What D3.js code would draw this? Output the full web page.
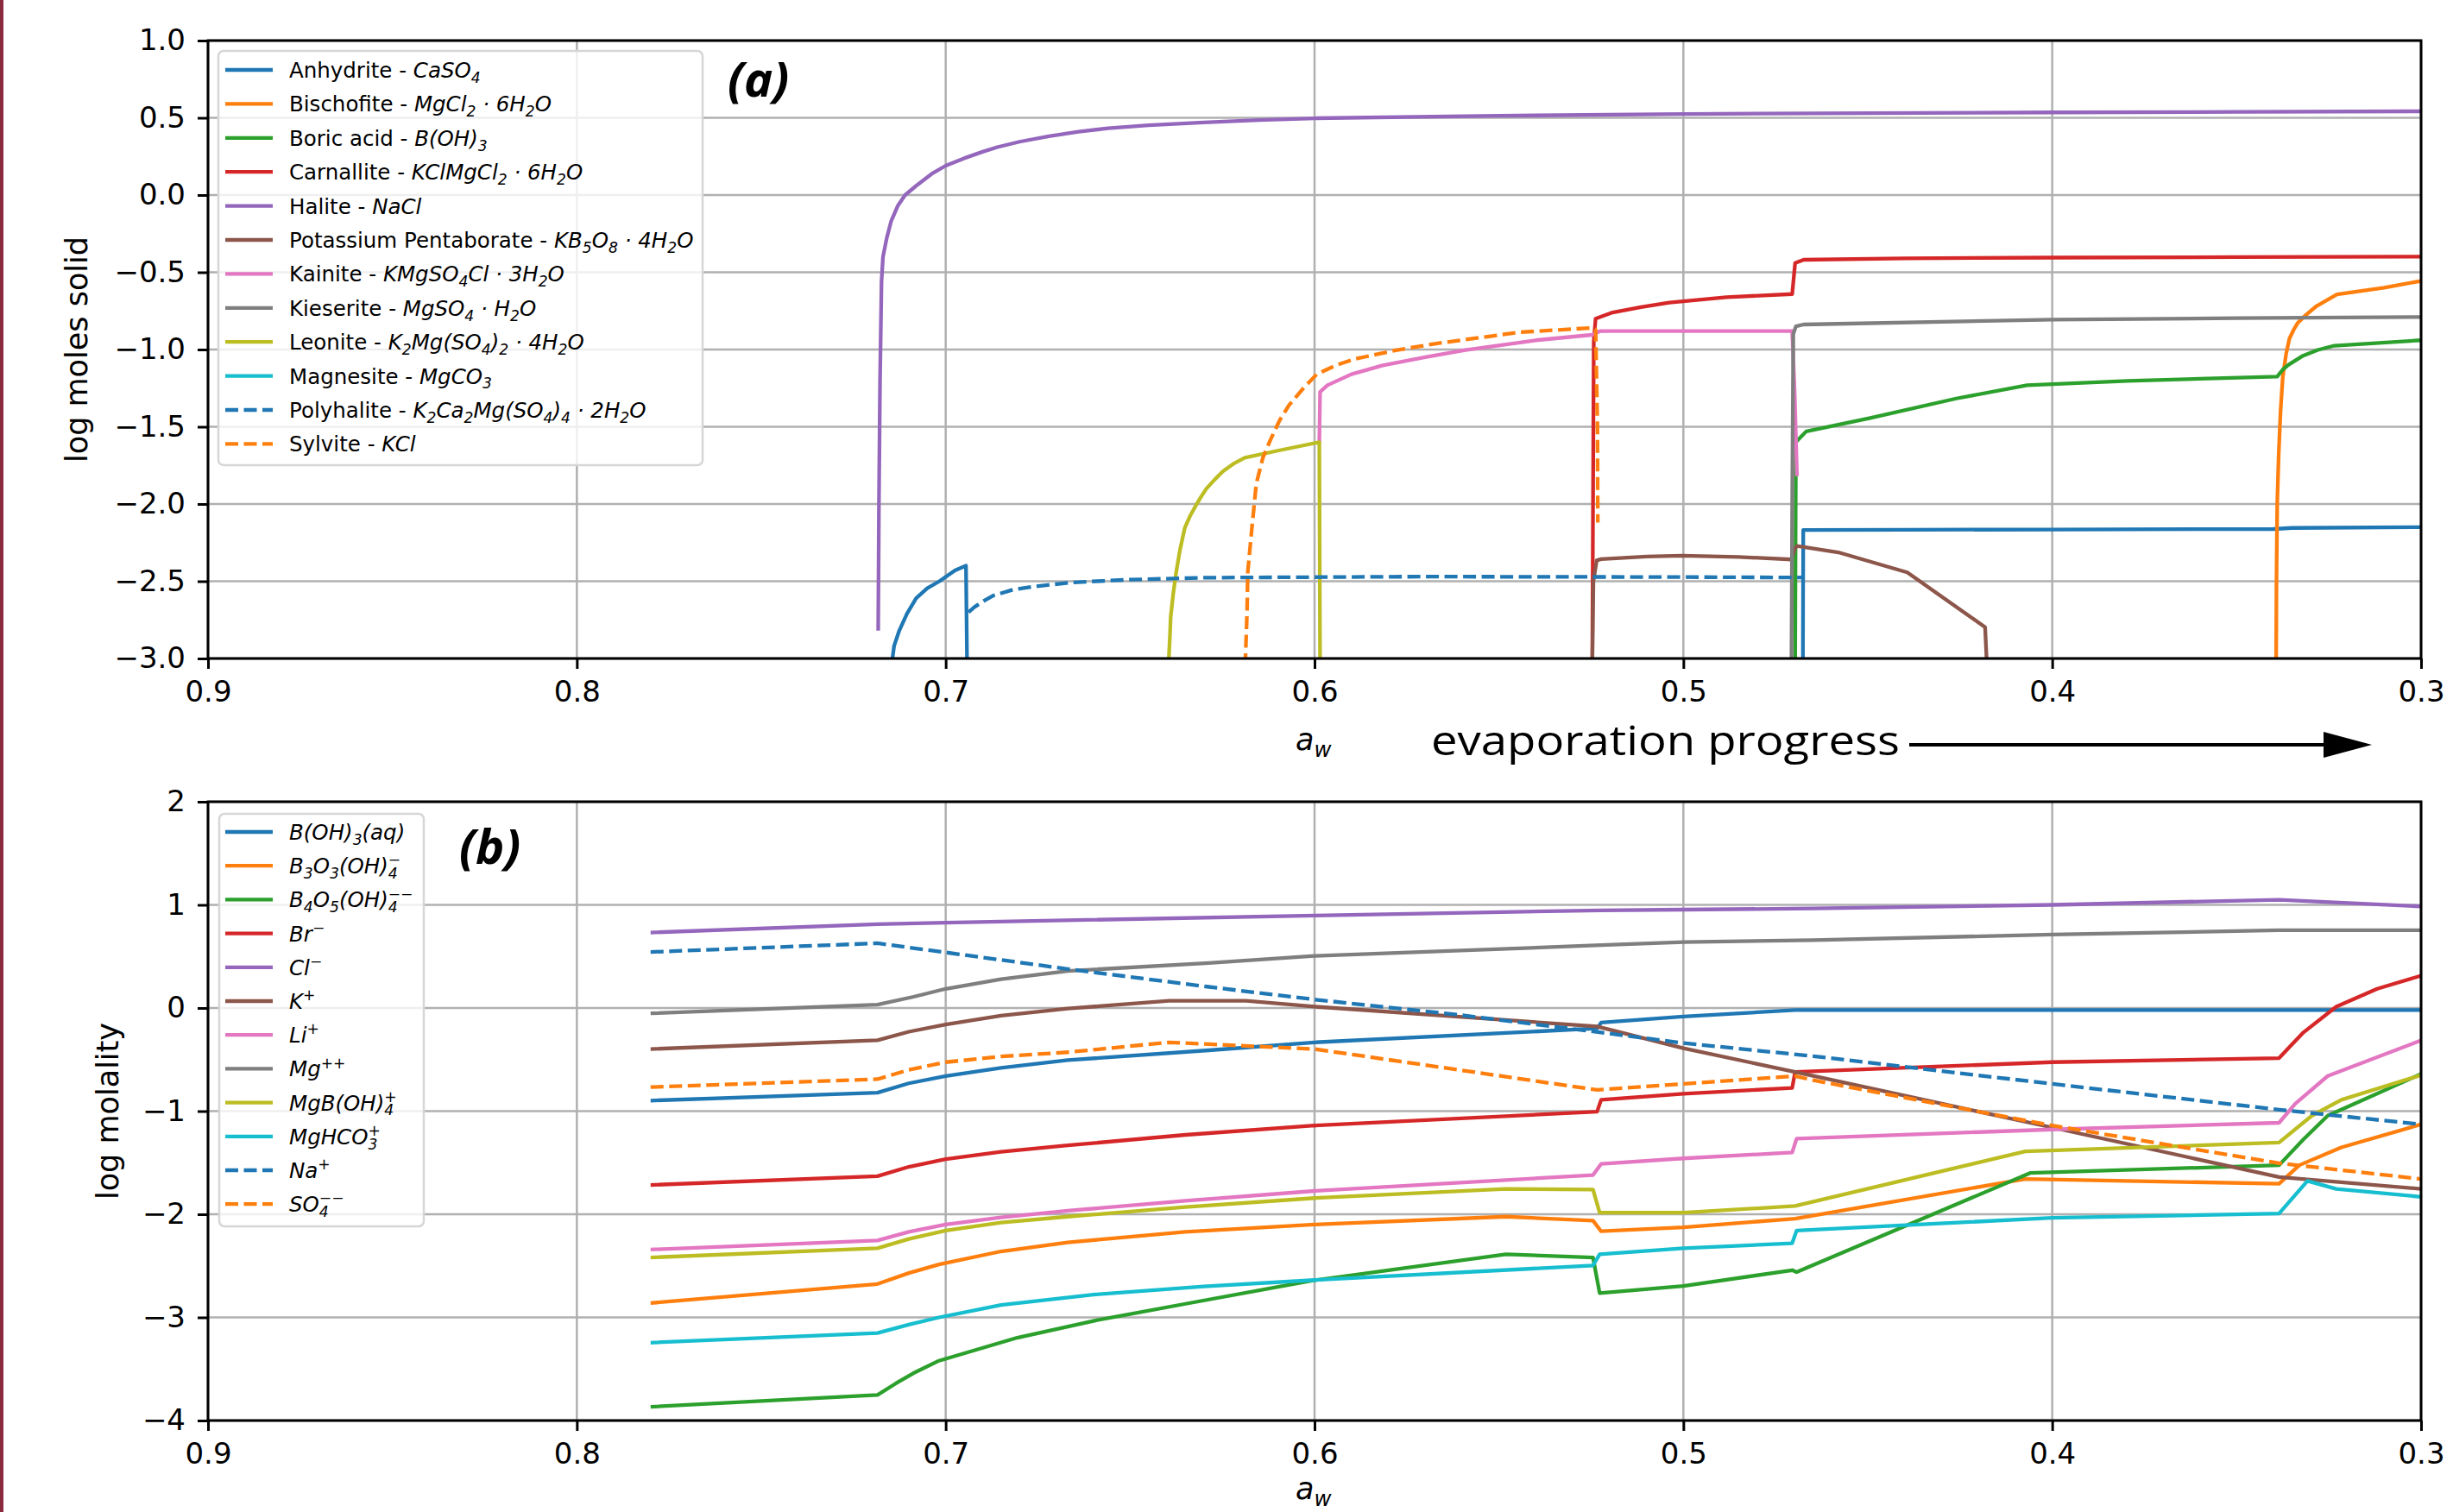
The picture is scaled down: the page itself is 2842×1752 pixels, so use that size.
<!DOCTYPE html>
<html>
<head>
<meta charset="utf-8">
<script src="https://cdn.jsdelivr.net/npm/d3@7"></script>
<style>
  body { margin: 0; background: #fff; }
  svg text { font-family: "DejaVu Sans", sans-serif; fill: #000; }
</style>
</head>
<body>
<svg width="2842" height="1752"></svg>
<script>
// **** Data: [a_w, value] pairs, null = gap ****

// (a) log moles solid
var anhydrite = [[0.7147,-3.05],[0.714,-2.92],[0.7126,-2.82],[0.7105,-2.71],[0.708,-2.61],[0.705,-2.545],[0.7017,-2.50],
    [0.6975,-2.43],[0.6945,-2.40],[0.6942,-3.05],
    null,[0.4676,-3.05],[0.4675,-2.168],[0.44,-2.167],[0.4,-2.165],[0.34,-2.162],[0.335,-2.155],[0.3,-2.15]];
var bischofite = [[0.3393,-3.05],[0.3392,-2.5],[0.339,-2.0],[0.3386,-1.68],[0.3381,-1.40],[0.3375,-1.18],[0.3366,-1.03],
    [0.3357,-0.93],[0.3345,-0.87],[0.3335,-0.83],[0.3314,-0.78],[0.3283,-0.718],[0.3228,-0.643],[0.31,-0.60],[0.3,-0.556]];
var boricAcid = [[0.4697,-3.05],[0.4695,-1.60],[0.469,-1.587],[0.4667,-1.53],[0.4496,-1.445],[0.426,-1.317],[0.4068,-1.231],
    [0.3796,-1.203],[0.339,-1.175],[0.3375,-1.13],[0.336,-1.10],[0.332,-1.04],[0.328,-1.003],[0.3235,-0.975],[0.3,-0.94]];
var carnallite = [[0.5247,-3.05],[0.5245,-2.0],[0.5243,-0.95],[0.5238,-0.80],[0.5195,-0.762],[0.5115,-0.725],[0.5038,-0.696],
    [0.4883,-0.661],[0.4705,-0.641],[0.4697,-0.44],[0.4674,-0.419],[0.44,-0.41],[0.4,-0.405],[0.35,-0.402],[0.3,-0.399]];
var halite = [[0.7183,-2.82],[0.7181,-2.0],[0.7178,-1.2],[0.7174,-0.56],[0.717,-0.40],[0.716,-0.28],[0.7148,-0.17],
    [0.713,-0.07],[0.711,0.0],[0.708,0.06],[0.7038,0.137],[0.70,0.19],[0.695,0.238],[0.69,0.28],[0.686,0.31],[0.68,0.345],
    [0.672,0.38],[0.664,0.41],[0.656,0.432],[0.645,0.452],[0.63,0.47],[0.615,0.485],[0.6,0.497],
    [0.55,0.513],[0.5,0.525],[0.45,0.53],[0.4,0.535],[0.35,0.538],[0.3,0.542]];
var pentaborate = [[0.5247,-3.05],[0.5244,-2.5],[0.5235,-2.365],[0.5223,-2.357],[0.51,-2.34],[0.5003,-2.335],[0.485,-2.343],
    [0.4707,-2.359],[0.4698,-2.29],[0.4692,-2.272],[0.458,-2.313],[0.4393,-2.443],[0.4182,-2.797],[0.4177,-3.05]];
var kainite = [[0.5987,-1.60],[0.5985,-1.274],[0.5965,-1.231],[0.59,-1.16],[0.5815,-1.103],[0.57,-1.05],[0.5591,-1.003],
    [0.54,-0.94],[0.5248,-0.905],[0.5226,-0.881],[0.4705,-0.881],[0.4698,-1.3],[0.4692,-1.82]];
var kieserite = [[0.4707,-3.05],[0.4705,-2.0],[0.4702,-0.9],[0.4695,-0.85],[0.4674,-0.838],[0.4,-0.807],[0.35,-0.797],[0.3,-0.79]];
var leonite = [[0.6396,-3.05],[0.6392,-2.85],[0.639,-2.73],[0.6383,-2.58],[0.6375,-2.44],[0.6365,-2.30],[0.6352,-2.156],
    [0.6338,-2.08],[0.6323,-2.015],[0.6308,-1.955],[0.6293,-1.90],[0.627,-1.84],[0.6248,-1.788],[0.622,-1.74],
    [0.6189,-1.70],[0.61,-1.655],[0.5987,-1.60],[0.5985,-3.05]];
var magnesite = [];
var polyhalite = [[0.6938,-2.70],[0.6922,-2.667],[0.6895,-2.625],[0.687,-2.592],[0.6818,-2.555],[0.6766,-2.536],[0.666,-2.508],
    [0.6505,-2.49],[0.6296,-2.477],[0.57,-2.47],[0.5,-2.473],[0.468,-2.476]];
var sylvite = [[0.6188,-3.05],[0.6183,-2.7],[0.6181,-2.44],[0.6170,-2.16],[0.6158,-1.87],[0.614,-1.70],[0.612,-1.587],
    [0.6095,-1.46],[0.6069,-1.36],[0.603,-1.25],[0.5994,-1.16],[0.594,-1.10],[0.5889,-1.06],[0.578,-1.005],[0.5667,-0.96],
    [0.5442,-0.888],[0.5248,-0.86],[0.5238,-0.87],[0.5233,-1.5],[0.5232,-2.12]];

var solidSeries = [anhydrite, bischofite, boricAcid, carnallite, halite, pentaborate, kainite, kieserite, leonite, magnesite, polyhalite, sylvite];
var solidLabels = ['Anhydrite - $CaSO_4$', 'Bischofite - $MgCl_2 · 6H_2O$', 'Boric acid - $B(OH)_3$',
    'Carnallite - $KClMgCl_2 · 6H_2O$', 'Halite - $NaCl$', 'Potassium Pentaborate - $KB_5O_8 · 4H_2O$',
    'Kainite - $KMgSO_4Cl · 3H_2O$', 'Kieserite - $MgSO_4 · H_2O$', 'Leonite - $K_2Mg(SO_4)_2 · 4H_2O$',
    'Magnesite - $MgCO_3$', 'Polyhalite - $K_2Ca_2Mg(SO_4)_4 · 2H_2O$', 'Sylvite - $KCl$'];

// (b) log molality
var bOH3 = [[0.78,-0.898],[0.7185,-0.821],[0.71,-0.73],[0.7,-0.66],[0.685,-0.58],[0.6669,-0.506],[0.6287,-0.41],[0.6,-0.333],
    [0.5234,-0.198],[0.5223,-0.141],[0.5,-0.083],[0.4697,-0.02],[0.4,-0.02],[0.3,-0.02]];
var b3o3 = [[0.78,-2.861],[0.7185,-2.676],[0.71,-2.57],[0.7018,-2.486],[0.685,-2.36],[0.6669,-2.273],[0.635,-2.17],[0.6,-2.1],
    [0.5481,-2.023],[0.5245,-2.062],[0.5223,-2.165],[0.5,-2.127],[0.4697,-2.042],[0.4073,-1.658],[0.3385,-1.704],
    [0.333,-1.524],[0.3216,-1.351],[0.3,-1.128]];
var b4o5 = [[0.78,-3.867],[0.7185,-3.752],[0.7135,-3.64],[0.7087,-3.54],[0.7018,-3.42],[0.6806,-3.197],[0.6594,-3.03],
    [0.634,-2.862],[0.6,-2.64],[0.5481,-2.388],[0.5245,-2.419],[0.5227,-2.765],[0.5,-2.696],[0.4705,-2.542],[0.4693,-2.561],
    [0.406,-1.6],[0.3385,-1.524],[0.3319,-1.274],[0.3253,-1.044],[0.3,-0.64]];
var br = [[0.78,-1.716],[0.7185,-1.631],[0.71,-1.54],[0.7,-1.466],[0.685,-1.395],[0.6669,-1.332],[0.635,-1.23],[0.6,-1.14],
    [0.5234,-1.005],[0.5223,-0.89],[0.5,-0.832],[0.4705,-0.775],[0.4697,-0.621],[0.4,-0.525],[0.3385,-0.486],
    [0.3319,-0.237],[0.323,0.013],[0.3119,0.186],[0.3,0.313]];
var cl = [[0.78,0.732],[0.7185,0.812],[0.7,0.827],[0.6,0.897],[0.5223,0.947],[0.5,0.954],[0.4648,0.965],[0.4,1.0],
    [0.3385,1.05],[0.3,0.985]];
var kPlus = [[0.78,-0.398],[0.7185,-0.313],[0.71,-0.23],[0.7,-0.16],[0.685,-0.075],[0.6669,-0.006],[0.6394,0.07],[0.6186,0.07],
    [0.6,0.013],[0.5234,-0.179],[0.5,-0.39],[0.4697,-0.62],[0.4,-1.159],[0.3385,-1.639],[0.3,-1.754]];
var li = [[0.78,-2.342],[0.7185,-2.254],[0.71,-2.17],[0.7,-2.1],[0.685,-2.03],[0.6669,-1.966],[0.635,-1.87],[0.6,-1.774],
    [0.5245,-1.62],[0.5223,-1.512],[0.5,-1.458],[0.4705,-1.401],[0.4693,-1.266],[0.4,-1.178],[0.3385,-1.113],
    [0.3341,-0.928],[0.3253,-0.659],[0.3,-0.314]];
var mg = [[0.78,-0.052],[0.7185,0.032],[0.7087,0.109],[0.7,0.186],[0.685,0.28],[0.6669,0.359],[0.6287,0.436],[0.6,0.505],
    [0.5223,0.609],[0.5,0.639],[0.4648,0.658],[0.4,0.712],[0.3385,0.754],[0.3,0.754]];
var mgBOH4 = [[0.78,-2.419],[0.7185,-2.33],[0.71,-2.24],[0.7,-2.158],[0.685,-2.08],[0.6669,-2.023],[0.635,-1.93],[0.6,-1.843],
    [0.5481,-1.754],[0.5245,-1.76],[0.5227,-1.985],[0.5,-1.985],[0.4697,-1.92],[0.4073,-1.39],[0.3385,-1.305],
    [0.3296,-1.044],[0.3216,-0.89],[0.3,-0.651]];
var mgHCO3 = [[0.78,-3.245],[0.7185,-3.152],[0.71,-3.07],[0.7018,-3.0],[0.685,-2.88],[0.6594,-2.778],[0.63,-2.70],[0.6,-2.638],
    [0.5245,-2.496],[0.5227,-2.388],[0.5,-2.33],[0.4705,-2.281],[0.4693,-2.158],[0.4,-2.035],[0.3385,-1.993],
    [0.3308,-1.677],[0.323,-1.754],[0.3,-1.831]];
var na = [[0.78,0.543],[0.7185,0.628],[0.7,0.539],[0.6669,0.378],[0.6287,0.205],[0.6,0.082],[0.5615,-0.064],[0.5223,-0.237],
    [0.5,-0.34],[0.4648,-0.467],[0.4,-0.736],[0.3385,-0.986],[0.3,-1.128]];
var so4 = [[0.78,-0.767],[0.7185,-0.69],[0.71,-0.60],[0.7,-0.525],[0.685,-0.47],[0.6669,-0.429],[0.6394,-0.333],[0.6,-0.398],
    [0.5234,-0.794],[0.5,-0.736],[0.4697,-0.66],[0.4648,-0.70],[0.4,-1.14],[0.3385,-1.505],[0.3,-1.658]];

var aqSeries = [bOH3, b3o3, b4o5, br, cl, kPlus, li, mg, mgBOH4, mgHCO3, na, so4];
var aqLabels = ['$B(OH)_3(aq)$', '$B_3O_3(OH)_4^−$', '$B_4O_5(OH)_4^{−−}$', '$Br^−$', '$Cl^−$', '$K^+$', '$Li^+$',
    '$Mg^{++}$', '$MgB(OH)_4^+$', '$MgHCO_3^+$', '$Na^+$', '$SO_4^{−−}$'];

// tick values
var awTicks = [0.9, 0.8, 0.7, 0.6, 0.5, 0.4, 0.3];
var solidTicks = [1.0, 0.5, 0.0, -0.5, -1.0, -1.5, -2.0, -2.5, -3.0];
var aqTicks = [2, 1, 0, -1, -2, -3, -4];

// shared styles: tab10, last two entries dashed
var colors = ['#1f77b4','#ff7f0e','#2ca02c','#d62728','#9467bd','#8c564b','#e377c2','#7f7f7f','#bcbd22','#17becf','#1f77b4','#ff7f0e'];
var dashed = [false,false,false,false,false,false,false,false,false,false,true,true];

// **** Scales ****

var svg = d3.select('svg');
svg.append('rect').attr('width', 2842).attr('height', 1752).attr('fill', '#fff');
// page border on the left
svg.append('rect').attr('x', 0).attr('y', 0).attr('width', 4).attr('height', 1752).attr('fill', '#8b2a3c');

var xScale = d3.scaleLinear().domain([0.9, 0.3]).range([241, 2805]);
var ySolid = d3.scaleLinear().domain([-3, 1]).range([763, 47]);
var yAq = d3.scaleLinear().domain([-4, 2]).range([1646, 929]);

// renders a mathtext-like label ($..$ italic, _x subscript, ^x superscript)
function mathText(sel, label, fs) {
    var parts = label.split('$');
    var segs = [];
    parts.forEach(function(p, k) {
        if (k % 2 === 0) { if (p) segs.push({t: p, it: false, pos: 0}); return; }
        var i = 0;
        while (i < p.length) {
            var c = p[i];
            if (c === '_' || c === '^') {
                var body;
                if (p[i+1] === '{') { var e = p.indexOf('}', i); body = p.slice(i+2, e); i = e + 1; }
                else { body = p[i+1]; i += 2; }
                segs.push({t: body, it: true, pos: c === '_' ? 1 : -1});
            } else {
                var j = i;
                while (j < p.length && p[j] !== '_' && p[j] !== '^') j++;
                segs.push({t: p.slice(i, j), it: true, pos: 0});
                i = j;
            }
        }
    });
    var cur = 0, prev = null;
    segs.forEach(function(s) {
        var target = s.pos === 1 ? 0.24 * fs : (s.pos === -1 ? -0.40 * fs : 0);
        var ts = sel.append('tspan')
            .attr('dy', target - cur)
            .style('font-size', (s.pos ? 0.7 * fs : fs) + 'px')
            .style('font-style', s.it ? 'italic' : 'normal')
            .text(s.t);
        if (s.pos === -1 && prev && prev.pos === 1) {
            ts.attr('dx', -prev.node.getComputedTextLength());
        }
        cur = target;
        prev = {pos: s.pos, node: ts.node()};
    });
}

function drawPanel(id, yScale, ticks, tickFmt, series, labels, yLabel, yLabelX, xLabelY, tag, tagPos, legend) {
    var top = yScale.range()[1], bottom = yScale.range()[0];
    var left = xScale.range()[0], right = xScale.range()[1];
    var g = svg.append('g');

    svg.append('clipPath').attr('id', 'clip' + id)
        .append('rect').attr('x', left).attr('y', top).attr('width', right - left).attr('height', bottom - top);

    // grid
    g.selectAll('.vgrid').data(awTicks).enter().append('line')
        .attr('x1', function(d){ return xScale(d); }).attr('x2', function(d){ return xScale(d); })
        .attr('y1', top).attr('y2', bottom)
        .attr('stroke', '#b0b0b0').attr('stroke-width', 2.5);
    g.selectAll('.hgrid').data(ticks).enter().append('line')
        .attr('x1', left).attr('x2', right)
        .attr('y1', function(d){ return yScale(d); }).attr('y2', function(d){ return yScale(d); })
        .attr('stroke', '#b0b0b0').attr('stroke-width', 2.5);

    // curves
    var line = d3.line()
        .defined(function(d){ return d !== null; })
        .x(function(d){ return xScale(d[0]); })
        .y(function(d){ return yScale(d[1]); });
    g.append('g').attr('clip-path', 'url(#clip' + id + ')')
        .selectAll('path').data(series).enter().append('path')
        .attr('d', function(d){ return line(d); })
        .attr('fill', 'none')
        .attr('stroke', function(d, i){ return colors[i]; })
        .attr('stroke-width', 4.3)
        .attr('stroke-linejoin', 'round')
        .attr('stroke-dasharray', function(d, i){ return dashed[i] ? '15,6.5' : null; });

    // spines
    g.append('rect').attr('x', left).attr('y', top).attr('width', right - left).attr('height', bottom - top)
        .attr('fill', 'none').attr('stroke', '#000').attr('stroke-width', 3);

    // axes
    var xa = g.append('g').attr('transform', 'translate(0,' + bottom + ')')
        .call(d3.axisBottom(xScale).tickValues(awTicks).tickFormat(d3.format('.1f')).tickSize(12).tickPadding(14));
    var ya = g.append('g').attr('transform', 'translate(' + left + ',0)')
        .call(d3.axisLeft(yScale).tickValues(ticks).tickFormat(tickFmt).tickSize(12).tickPadding(14));
    [xa, ya].forEach(function(a) {
        a.select('.domain').remove();
        a.selectAll('line').attr('stroke', '#000').attr('stroke-width', 3);
        a.selectAll('text').attr('font-family', 'DejaVu Sans').attr('font-size', 34).attr('fill', '#000');
    });

    // axis labels
    g.append('text')
        .attr('transform', 'translate(' + yLabelX + ',' + ((top + bottom) / 2) + ') rotate(-90)')
        .attr('text-anchor', 'middle').attr('font-size', 35)
        .text(yLabel);
    var xl = g.append('text')
        .attr('x', (left + right) / 2 - 22).attr('y', xLabelY).attr('font-size', 35);
    mathText(xl, '$a_w$', 35);

    // panel tag
    g.append('text').attr('x', tagPos[0]).attr('y', tagPos[1])
        .style('font-family', '"Open Sans", Lato, sans-serif').style('font-weight', 'bold').style('font-style', 'italic')
        .attr('font-size', 56).text(tag);

    // legend
    var lg = g.append('g');
    lg.append('rect').attr('x', legend.x).attr('y', legend.y).attr('width', legend.w).attr('height', legend.h)
        .attr('rx', 6).attr('fill', '#fff').attr('fill-opacity', 0.8)
        .attr('stroke', '#d6d6d6').attr('stroke-width', 2.5);
    labels.forEach(function(lab, i) {
        var ly = legend.row0 + i * legend.step;
        lg.append('line').attr('x1', 261).attr('x2', 316).attr('y1', ly).attr('y2', ly)
            .attr('stroke', colors[i]).attr('stroke-width', 4.3)
            .attr('stroke-dasharray', dashed[i] ? '15,6.5' : null);
        var t = lg.append('text').attr('x', 335).attr('y', ly + 9).attr('font-size', 24.5);
        mathText(t, lab, 24.5);
    });
}

drawPanel('a', ySolid, solidTicks, d3.format('.1f'), solidSeries, solidLabels, 'log moles solid', 101, 869, '(a)', [843, 112],
    {x: 253, y: 59, w: 561, h: 480, row0: 81, step: 39.4});
drawPanel('b', yAq, aqTicks, d3.format('d'), aqSeries, aqLabels, 'log molality', 137, 1737, '(b)', [532, 1001],
    {x: 254, y: 943, w: 237, h: 478, row0: 964, step: 39.2});

// **** Evaporation annotation ****
svg.append('text')
    .attr('x', 1658).attr('y', 875)
    .style('font-family', '"Open Sans", Lato, sans-serif')
    .attr('font-size', 48)
    .attr('textLength', 543).attr('lengthAdjust', 'spacingAndGlyphs')
    .text('evaporation progress');
svg.append('line').attr('x1', 2212).attr('x2', 2700).attr('y1', 863).attr('y2', 863)
    .attr('stroke', '#000').attr('stroke-width', 4);
svg.append('path').attr('d', 'M2692,848 L2748,863 L2692,878 Z').attr('fill', '#000');
</script>
</body>
</html>
